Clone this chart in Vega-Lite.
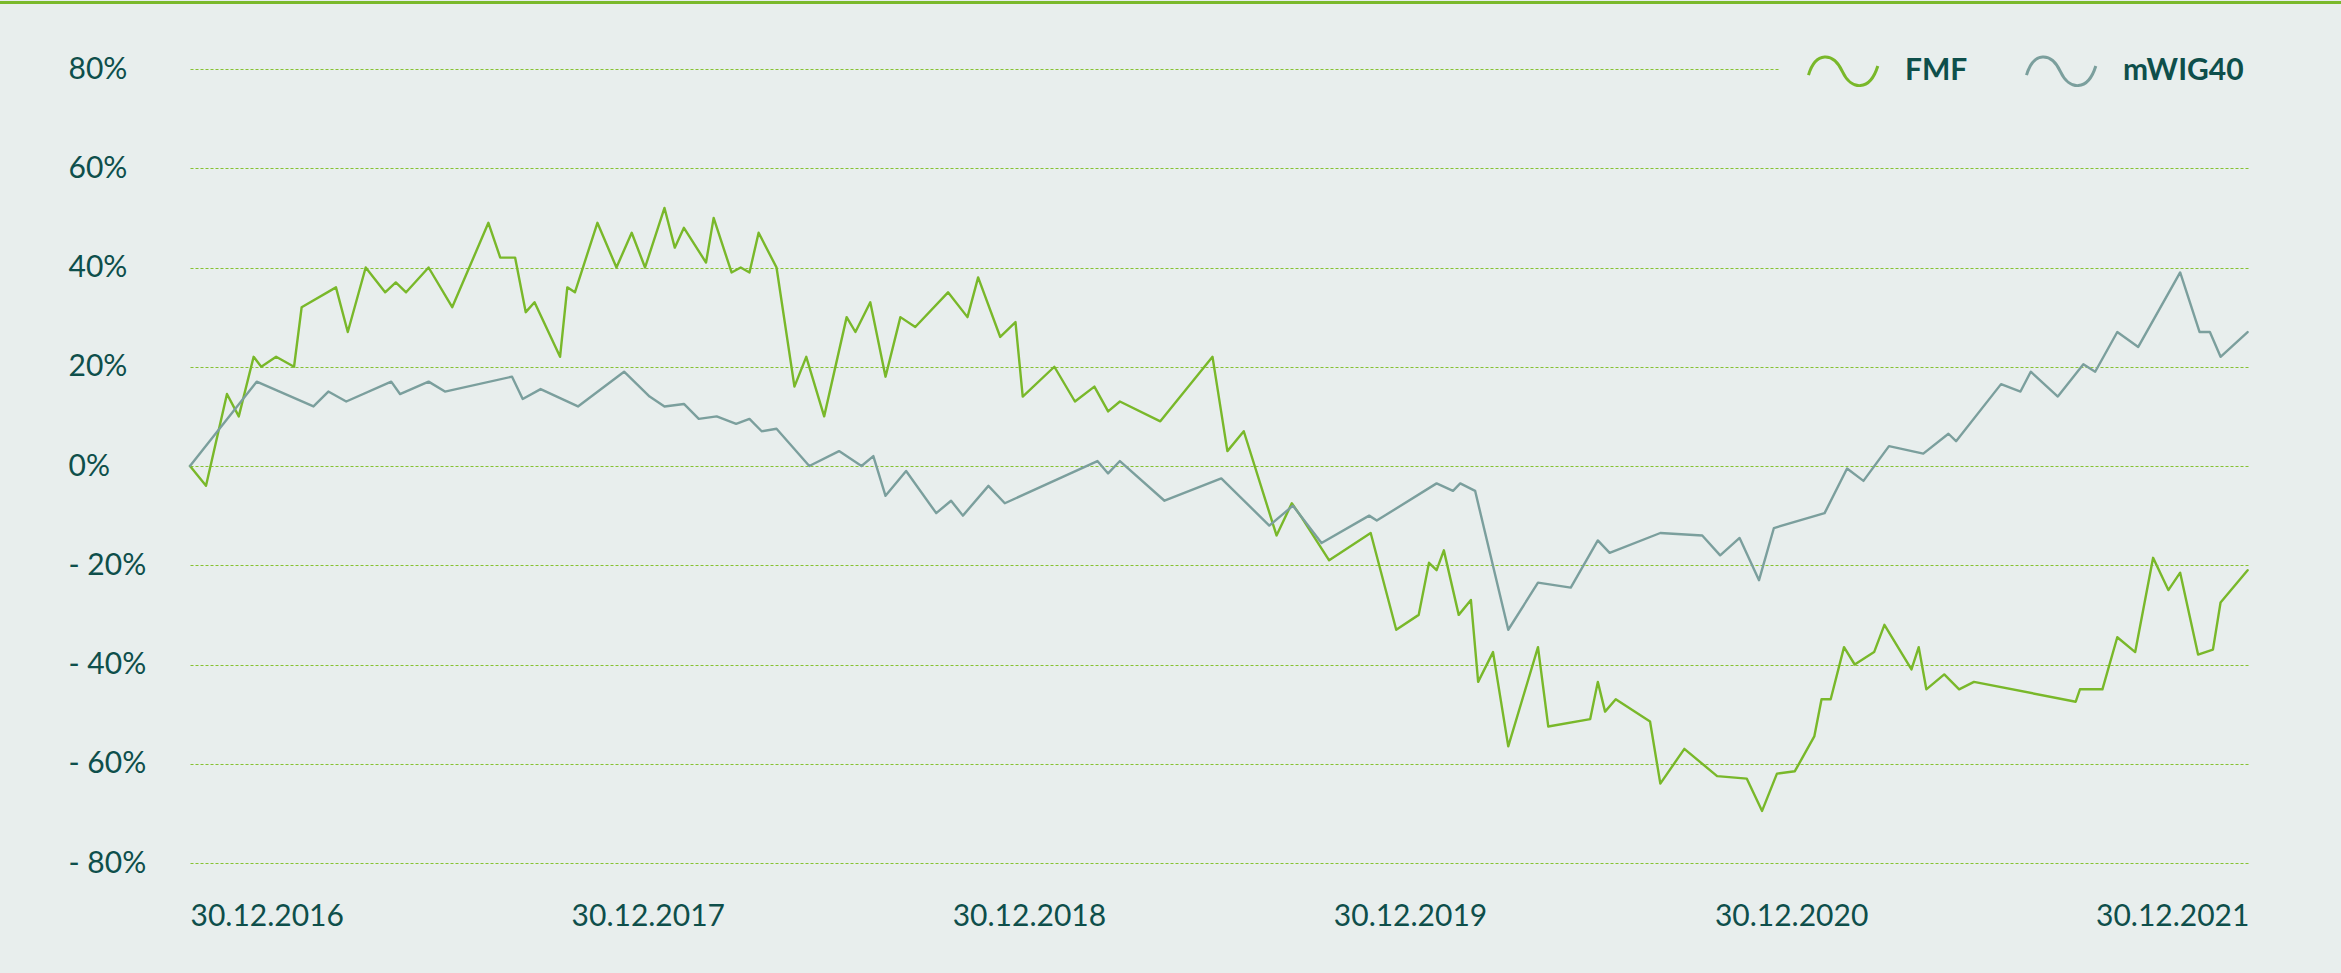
{
  "$schema": "https://vega.github.io/schema/vega-lite/v6.json",
  "width": 2058,
  "height": 794,
  "autosize": {"type": "none"},
  "padding": {"left": 190, "top": 69, "right": 93, "bottom": 110},
  "background": "#e8eeed",
  "config": {
    "view": {"stroke": null},
    "font": "Lato"
  },
  "data": {
    "values": [
      {"s":"FMF","t":0,"v":0},{"s":"FMF","t":0.042,"v":-4},{"s":"FMF","t":0.097,"v":14.5},{"s":"FMF","t":0.128,"v":10},{"s":"FMF","t":0.167,"v":22},{"s":"FMF","t":0.187,"v":20},{"s":"FMF","t":0.226,"v":22},{"s":"FMF","t":0.273,"v":20},{"s":"FMF","t":0.293,"v":32},{"s":"FMF","t":0.383,"v":36},{"s":"FMF","t":0.414,"v":27},{"s":"FMF","t":0.461,"v":40},{"s":"FMF","t":0.512,"v":35},{"s":"FMF","t":0.54,"v":37},{"s":"FMF","t":0.567,"v":35},{"s":"FMF","t":0.626,"v":40},{"s":"FMF","t":0.688,"v":32},{"s":"FMF","t":0.783,"v":49},{"s":"FMF","t":0.814,"v":42},{"s":"FMF","t":0.853,"v":42},{"s":"FMF","t":0.881,"v":31},{"s":"FMF","t":0.904,"v":33},{"s":"FMF","t":0.971,"v":22},{"s":"FMF","t":0.99,"v":36},{"s":"FMF","t":1.01,"v":35},{"s":"FMF","t":1.069,"v":49},{"s":"FMF","t":1.119,"v":40},{"s":"FMF","t":1.159,"v":47},{"s":"FMF","t":1.194,"v":40},{"s":"FMF","t":1.245,"v":52},{"s":"FMF","t":1.272,"v":44},{"s":"FMF","t":1.296,"v":48},{"s":"FMF","t":1.354,"v":41},{"s":"FMF","t":1.374,"v":50},{"s":"FMF","t":1.421,"v":39},{"s":"FMF","t":1.445,"v":40},{"s":"FMF","t":1.468,"v":39},{"s":"FMF","t":1.492,"v":47},{"s":"FMF","t":1.539,"v":40},{"s":"FMF","t":1.586,"v":16},{"s":"FMF","t":1.617,"v":22},{"s":"FMF","t":1.664,"v":10},{"s":"FMF","t":1.723,"v":30},{"s":"FMF","t":1.746,"v":27},{"s":"FMF","t":1.785,"v":33},{"s":"FMF","t":1.825,"v":18},{"s":"FMF","t":1.864,"v":30},{"s":"FMF","t":1.903,"v":28},{"s":"FMF","t":1.989,"v":35},{"s":"FMF","t":2.04,"v":30},{"s":"FMF","t":2.068,"v":38},{"s":"FMF","t":2.126,"v":26},{"s":"FMF","t":2.166,"v":29},{"s":"FMF","t":2.185,"v":14},{"s":"FMF","t":2.268,"v":20},{"s":"FMF","t":2.322,"v":13},{"s":"FMF","t":2.373,"v":16},{"s":"FMF","t":2.409,"v":11},{"s":"FMF","t":2.44,"v":13},{"s":"FMF","t":2.546,"v":9},{"s":"FMF","t":2.683,"v":22},{"s":"FMF","t":2.722,"v":3},{"s":"FMF","t":2.765,"v":7},{"s":"FMF","t":2.851,"v":-14},{"s":"FMF","t":2.891,"v":-7.5},{"s":"FMF","t":2.918,"v":-10.5},{"s":"FMF","t":2.989,"v":-19},{"s":"FMF","t":3.098,"v":-13.5},{"s":"FMF","t":3.165,"v":-33},{"s":"FMF","t":3.224,"v":-30},{"s":"FMF","t":3.251,"v":-19.5},{"s":"FMF","t":3.271,"v":-21},{"s":"FMF","t":3.29,"v":-17},{"s":"FMF","t":3.329,"v":-30},{"s":"FMF","t":3.361,"v":-27},{"s":"FMF","t":3.38,"v":-43.5},{"s":"FMF","t":3.419,"v":-37.5},{"s":"FMF","t":3.459,"v":-56.5},{"s":"FMF","t":3.537,"v":-36.5},{"s":"FMF","t":3.564,"v":-52.5},{"s":"FMF","t":3.674,"v":-51},{"s":"FMF","t":3.694,"v":-43.5},{"s":"FMF","t":3.713,"v":-49.5},{"s":"FMF","t":3.741,"v":-47},{"s":"FMF","t":3.831,"v":-51.5},{"s":"FMF","t":3.858,"v":-64},{"s":"FMF","t":3.921,"v":-57},{"s":"FMF","t":4.007,"v":-62.5},{"s":"FMF","t":4.085,"v":-63},{"s":"FMF","t":4.125,"v":-69.5},{"s":"FMF","t":4.164,"v":-62},{"s":"FMF","t":4.211,"v":-61.5},{"s":"FMF","t":4.262,"v":-54.5},{"s":"FMF","t":4.281,"v":-47},{"s":"FMF","t":4.305,"v":-47},{"s":"FMF","t":4.34,"v":-36.5},{"s":"FMF","t":4.368,"v":-40},{"s":"FMF","t":4.419,"v":-37.5},{"s":"FMF","t":4.446,"v":-32},{"s":"FMF","t":4.517,"v":-41},{"s":"FMF","t":4.536,"v":-36.5},{"s":"FMF","t":4.556,"v":-45},{"s":"FMF","t":4.603,"v":-42},{"s":"FMF","t":4.642,"v":-45},{"s":"FMF","t":4.681,"v":-43.5},{"s":"FMF","t":4.948,"v":-47.5},{"s":"FMF","t":4.959,"v":-45},{"s":"FMF","t":5.018,"v":-45},{"s":"FMF","t":5.057,"v":-34.5},{"s":"FMF","t":5.104,"v":-37.5},{"s":"FMF","t":5.151,"v":-18.5},{"s":"FMF","t":5.191,"v":-25},{"s":"FMF","t":5.222,"v":-21.5},{"s":"FMF","t":5.269,"v":-38},{"s":"FMF","t":5.308,"v":-37},{"s":"FMF","t":5.328,"v":-27.5},{"s":"FMF","t":5.399,"v":-21},
      {"s":"mWIG40","t":0,"v":0},{"s":"mWIG40","t":0.175,"v":17},{"s":"mWIG40","t":0.324,"v":12},{"s":"mWIG40","t":0.363,"v":15},{"s":"mWIG40","t":0.41,"v":13},{"s":"mWIG40","t":0.528,"v":17},{"s":"mWIG40","t":0.551,"v":14.5},{"s":"mWIG40","t":0.626,"v":17},{"s":"mWIG40","t":0.669,"v":15},{"s":"mWIG40","t":0.845,"v":18},{"s":"mWIG40","t":0.873,"v":13.5},{"s":"mWIG40","t":0.92,"v":15.5},{"s":"mWIG40","t":1.018,"v":12},{"s":"mWIG40","t":1.139,"v":19},{"s":"mWIG40","t":1.206,"v":14},{"s":"mWIG40","t":1.245,"v":12},{"s":"mWIG40","t":1.296,"v":12.5},{"s":"mWIG40","t":1.335,"v":9.5},{"s":"mWIG40","t":1.382,"v":10},{"s":"mWIG40","t":1.433,"v":8.5},{"s":"mWIG40","t":1.468,"v":9.5},{"s":"mWIG40","t":1.5,"v":7},{"s":"mWIG40","t":1.539,"v":7.5},{"s":"mWIG40","t":1.625,"v":0},{"s":"mWIG40","t":1.703,"v":3},{"s":"mWIG40","t":1.762,"v":0},{"s":"mWIG40","t":1.793,"v":2},{"s":"mWIG40","t":1.825,"v":-6},{"s":"mWIG40","t":1.879,"v":-1},{"s":"mWIG40","t":1.958,"v":-9.5},{"s":"mWIG40","t":1.997,"v":-7},{"s":"mWIG40","t":2.028,"v":-10},{"s":"mWIG40","t":2.095,"v":-4},{"s":"mWIG40","t":2.138,"v":-7.5},{"s":"mWIG40","t":2.381,"v":1},{"s":"mWIG40","t":2.409,"v":-1.5},{"s":"mWIG40","t":2.44,"v":1},{"s":"mWIG40","t":2.557,"v":-7},{"s":"mWIG40","t":2.706,"v":-2.5},{"s":"mWIG40","t":2.832,"v":-12},{"s":"mWIG40","t":2.894,"v":-8},{"s":"mWIG40","t":2.969,"v":-15.5},{"s":"mWIG40","t":3.094,"v":-10},{"s":"mWIG40","t":3.114,"v":-11},{"s":"mWIG40","t":3.271,"v":-3.5},{"s":"mWIG40","t":3.314,"v":-5},{"s":"mWIG40","t":3.333,"v":-3.5},{"s":"mWIG40","t":3.372,"v":-5},{"s":"mWIG40","t":3.459,"v":-33},{"s":"mWIG40","t":3.537,"v":-23.5},{"s":"mWIG40","t":3.623,"v":-24.5},{"s":"mWIG40","t":3.694,"v":-15},{"s":"mWIG40","t":3.725,"v":-17.5},{"s":"mWIG40","t":3.858,"v":-13.5},{"s":"mWIG40","t":3.968,"v":-14},{"s":"mWIG40","t":4.015,"v":-18},{"s":"mWIG40","t":4.066,"v":-14.5},{"s":"mWIG40","t":4.117,"v":-23},{"s":"mWIG40","t":4.156,"v":-12.5},{"s":"mWIG40","t":4.289,"v":-9.5},{"s":"mWIG40","t":4.348,"v":-0.5},{"s":"mWIG40","t":4.391,"v":-3},{"s":"mWIG40","t":4.458,"v":4},{"s":"mWIG40","t":4.548,"v":2.5},{"s":"mWIG40","t":4.614,"v":6.5},{"s":"mWIG40","t":4.634,"v":5},{"s":"mWIG40","t":4.752,"v":16.5},{"s":"mWIG40","t":4.803,"v":15},{"s":"mWIG40","t":4.83,"v":19},{"s":"mWIG40","t":4.901,"v":14},{"s":"mWIG40","t":4.968,"v":20.5},{"s":"mWIG40","t":4.999,"v":19},{"s":"mWIG40","t":5.057,"v":27},{"s":"mWIG40","t":5.112,"v":24},{"s":"mWIG40","t":5.222,"v":39},{"s":"mWIG40","t":5.273,"v":27},{"s":"mWIG40","t":5.3,"v":27},{"s":"mWIG40","t":5.328,"v":22},{"s":"mWIG40","t":5.399,"v":27}
    ]
  },
  "layer": [
    {
      "mark": {"type": "rule", "color": "#7ab92b", "strokeWidth": 3},
      "encoding": {
        "x": {"datum": -0.6, "type": "quantitative"},
        "x2": {"datum": 5.8},
        "y": {"datum": 93.4, "type": "quantitative"}
      }
    },
    {
      "mark": {"type": "line", "strokeWidth": 2.4, "strokeJoin": "round", "strokeCap": "round"},
      "encoding": {
        "x": {
          "field": "t",
          "type": "quantitative",
          "scale": {"domain": [0, 5.4], "nice": false, "zero": false},
          "axis": {
            "title": null,
            "values": [0, 1, 2, 3, 4, 5],
            "labelExpr": "'30.12.' + (2016 + datum.value)",
            "labelAlign": "left",
            "labelBaseline": "top",
            "labelPadding": 38,
            "labelFontSize": 30,
            "labelColor": "#0e4f4b",
            "labelFont": "Lato",
            "ticks": false,
            "tickSize": 0,
            "domain": false,
            "grid": false,
            "labelFlush": false,
            "labelOverlap": false
          }
        },
        "y": {
          "field": "v",
          "type": "quantitative",
          "scale": {"domain": [-80, 80], "nice": false},
          "axis": {
            "title": null,
            "values": [-80, -60, -40, -20, 0, 20, 40, 60, 80],
            "labelExpr": "datum.value < 0 ? '- ' + abs(datum.value) + '%' : datum.value + '%'",
            "labelAlign": "left",
            "labelPadding": 122,
            "labelFontSize": 30,
            "labelColor": "#0e4f4b",
            "labelFont": "Lato",
            "ticks": false,
            "tickSize": 0,
            "domain": false,
            "grid": true,
            "gridColor": "#86c232",
            "gridDash": [3, 2],
            "gridWidth": 1.2,
            "labelFlush": false,
            "labelOverlap": false
          }
        },
        "color": {
          "field": "s",
          "type": "nominal",
          "scale": {"domain": ["FMF", "mWIG40"], "range": ["#79b82a", "#7b9f9d"]},
          "legend": {
            "title": null,
            "orient": "none",
            "direction": "horizontal",
            "legendX": 1589,
            "legendY": -63,
            "padding": 28,
            "fillColor": "#e8eeed",
            "symbolType": "M-1,0.12 C-0.8,-0.55 -0.3,-0.55 -0.03,0.02 C0.22,0.56 0.75,0.6 0.98,-0.14",
            "symbolSize": 4900,
            "symbolStrokeWidth": 3,
            "symbolFillColor": "transparent",
            "labelFont": "Lato",
            "labelFontSize": 30,
            "labelFontWeight": "bold",
            "labelColor": "#0e4f4b",
            "labelOffset": 25,
            "columnPadding": 52
          }
        }
      }
    }
  ]
}
